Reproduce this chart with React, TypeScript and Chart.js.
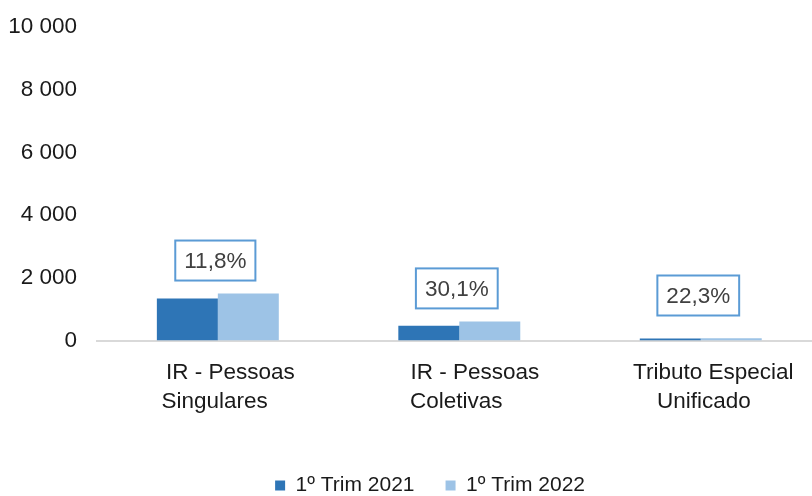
import React, { useEffect, useRef } from 'react';
import { Chart, registerables } from 'chart.js';

Chart.register(...registerables);

const categories: string[][] = [
  ['    IR - Pessoas', 'Singulares '],
  ['     IR - Pessoas', 'Coletivas '],
  ['    Tributo Especial', ' Unificado'],
];
const seriesNames = ['1º Trim 2021', '1º Trim 2022'];
const series2021 = [1340, 468, 60];
const series2022 = [1498, 609, 73];
const growthPct = [11.8, 30.1, 22.3];

const FONT = '"Liberation Sans", Arial, Helvetica, sans-serif';

const growthBoxes = {
  id: 'growthBoxes',
  afterDatasetsDraw(chart: any) {
    const { ctx } = chart;
    const xs = chart.scales.x;
    const ys = chart.scales.y;
    ctx.save();
    ctx.font = `22.5px ${FONT}`;
    growthPct.forEach((g, i) => {
      const top = Math.max(series2021[i], series2022[i]);
      const cx = xs.getPixelForValue(i) - 2.5;
      const bottom = Math.min(ys.getPixelForValue(top) - 13, ys.getPixelForValue(0) - 25);
      const text = g.toFixed(1).replace('.', ',') + '%';
      const w = ctx.measureText(text).width + 18;
      const h = 40;
      ctx.fillStyle = '#ffffff';
      ctx.fillRect(cx - w / 2, bottom - h, w, h);
      ctx.strokeStyle = '#5B9BD5';
      ctx.lineWidth = 2;
      ctx.strokeRect(cx - w / 2, bottom - h, w, h);
      ctx.fillStyle = '#404040';
      ctx.textAlign = 'center';
      ctx.textBaseline = 'middle';
      ctx.fillText(text, cx, bottom - h / 2 + 1);
    });
    ctx.restore();
  },
};

export default function App() {
  const ref = useRef<HTMLCanvasElement | null>(null);

  useEffect(() => {
    if (!ref.current) return;
    const chart = new Chart(ref.current, {
      type: 'bar',
      data: {
        labels: categories,
        datasets: [
          {
            label: seriesNames[0],
            data: series2021,
            backgroundColor: '#2E75B6',
            categoryPercentage: 0.505,
            barPercentage: 1,
          },
          {
            label: seriesNames[1],
            data: series2022,
            backgroundColor: '#9DC3E6',
            categoryPercentage: 0.505,
            barPercentage: 1,
          },
        ],
      },
      options: {
        responsive: false,
        animation: false,
        layout: { padding: { top: 27, left: 8.1, right: 0, bottom: 0 } },
        plugins: {
          legend: {
            position: 'bottom',
            labels: {
              font: { family: FONT, size: 21 },
              color: '#1a1a1a',
              boxWidth: 10,
              boxHeight: 10,
              padding: 31,
            },
          },
          tooltip: { enabled: false },
        },
        scales: {
          x: {
            grid: { display: false, drawTicks: false },
            border: { display: true, color: '#d9d9d9', width: 2 },
            ticks: {
              font: { family: FONT, size: 22.5, lineHeight: 1.27 },
              color: '#1a1a1a',
              padding: 18,
              maxRotation: 0,
              autoSkip: false,
            },
            afterFit: (scale: any) => {
              scale.height = 103.5;
              scale.paddingLeft = 0;
              scale.paddingRight = 0;
            },
          },
          y: {
            min: 0,
            max: 10000,
            grid: { display: false, drawTicks: false },
            border: { display: false },
            ticks: {
              stepSize: 2000,
              padding: 20,
              font: { family: FONT, size: 22.5 },
              color: '#1a1a1a',
              callback: (v: any) => String(v).replace(/\B(?=(\d{3})+(?!\d))/g, ' '),
            },
            afterFit: (scale: any) => {
              scale.width = 89;
              scale.paddingTop = 0;
              scale.paddingBottom = 0;
            },
          },
          y2: {
            position: 'right',
            display: true,
            grid: { display: false, drawTicks: false },
            border: { display: false },
            ticks: { display: false },
            afterFit: (scale: any) => {
              scale.width = 30.5;
              scale.paddingTop = 0;
              scale.paddingBottom = 0;
            },
          },
        },
      } as any,
      plugins: [growthBoxes],
    });
    return () => chart.destroy();
  }, []);

  return (
    <div
      style={{
        position: 'fixed',
        left: 0,
        top: 0,
        width: 812,
        height: 496,
        overflow: 'hidden',
        background: '#ffffff',
      }}
    >
      <canvas ref={ref} width={852} height={506} style={{ width: 852, height: 506, display: 'block' }} />
    </div>
  );
}
